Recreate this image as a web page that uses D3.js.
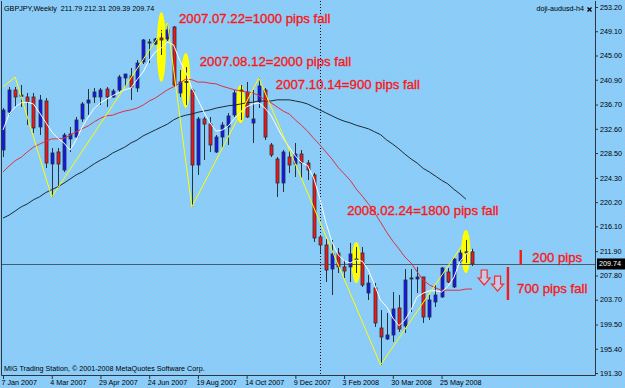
<!DOCTYPE html>
<meta charset="utf-8">
<script src="https://d3js.org/d3.v7.min.js"></script>
<style>
body { margin: 0; background: #87cefa; }
svg { display: block; font-family: "Liberation Sans", Arial, sans-serif; }
.axis path.domain { display: none; }
.axis line { stroke: #2b3640; }
.axis text { font-size: 7.2px; fill: #000; }
.note { font-size: 13.2px; fill: #f81818; stroke: #f81818; stroke-width: 0.35px; }
.small { font-size: 7.2px; fill: #000; }
</style>
<body>
<script>
// GBPJPY weekly bars, 7 Jan 2007 .. 29 Jun 2008
var opens = [229.02,235.44,239.16,238.1,237.98,237.98,232.91,237.30,226.65,228.68,
  225.63,230.88,231.21,234.26,236.96,237.98,237.98,239.33,237.98,239.16,
  241.19,241.53,239.50,243.90,247.28,246.94,247.96,247.79,249.82,238.66,
  240.6,239.16,226.48,234.26,233.41,228.68,231.21,232.91,234.94,238.99,
  238.83,233.58,237.13,239.16,229.86,227.49,223.44,227.83,226.65,228.34,
  226.82,224.79,214.30,212.95,208.89,211.60,209.23,209.23,210.58,211.60,
  204.83,205.68,198.91,197.05,197.73,202.30,199.25,207.20,207.20,207.54,
  200.77,203.31,204.16,208.38,205.85,210.24,211.60,211.79];
var highs = [236.12,239.67,239.67,240.01,238.66,238.66,238.32,237.81,229.35,229.35,
  231.89,232.91,234.60,237.13,239.33,239.50,239.50,239.67,239.33,241.70,
  241.87,242.88,244.24,247.79,247.79,247.96,249.31,250.49,249.99,242.55,
  243.05,239.50,234.60,234.60,234.60,231.55,233.75,235.27,239.16,240.01,
  240.52,239.16,241.19,239.50,230.20,227.83,229.02,229.02,230.20,229.02,
  227.33,225.13,214.64,213.96,213.80,212.44,210.41,213.29,212.61,212.61,
  207.88,206.52,201.96,201.45,205.00,204.49,208.89,208.89,209.23,207.54,
  204.49,206.18,209.23,209.06,210.75,212.10,213.80,212.31];
var lows = [227.83,234.94,236.29,236.29,233.24,231.89,231.55,225.97,221.07,222.59,
  225.30,228.68,231.05,233.75,234.94,236.96,236.63,236.29,237.81,238.83,
  239.67,237.47,238.83,243.56,243.73,246.77,245.08,247.45,239.67,237.98,
  236.63,219.38,224.79,227.33,228.68,228.51,229.35,229.86,234.60,234.09,
  234.43,230.20,236.12,230.71,227.83,221.07,221.91,225.13,224.45,224.28,
  223.94,213.46,211.60,206.69,204.49,208.21,207.37,206.69,208.21,205.85,
  203.65,199.08,192.66,196.88,196.55,198.24,198.07,201.62,204.83,199.76,
  200.27,202.46,203.99,206.52,205.68,209.91,209.91,209.39];
var closes = [235.78,239.16,237.98,238.3,237.13,232.74,237.47,226.82,228.51,226.65,
  231.55,231.72,234.09,236.80,237.47,238.83,239.16,237.98,238.99,241.36,
  241.87,239.67,243.73,247.62,247.11,247.79,247.62,249.31,240.01,240.52,
  240.5,226.48,234.26,233.41,229.86,231.21,233.24,234.77,238.66,239.16,
  234.60,234.26,239.84,231.21,228.17,223.44,228.68,226.48,228.34,226.82,
  225.63,214.13,212.95,208.72,211.43,209.23,208.55,211.43,210.45,206.18,
  206.52,199.76,197.39,197.73,202.13,198.74,207.03,207.37,207.54,200.77,
  203.65,204.49,209.06,206.69,210.58,211.60,211.79,209.74];

// moving averages
var maFast = [232.4,235.1,236.3,237.0,237.1,236.8,235.3,233.7,232.1,231.0,
  230.2,229.0,230.7,232.9,234.6,236.1,237.0,237.6,238.2,238.7,
  239.2,239.5,240.9,242.2,244.2,245.6,246.3,247.3,246.8,244.2,
  242.2,239.5,237.5,235.4,233.6,232.2,232.4,233.1,234.3,235.4,
  236.3,236.8,237.0,236.1,234.9,232.9,231.0,229.5,228.0,226.9,
  226.4,224.3,220.9,216.8,213.5,211.3,210.3,209.9,210.4,210.2,
  208.7,206.2,203.6,202.5,200.6,199.3,200.3,202.0,204.2,204.8,
  205.2,205.2,205.0,205.9,207.4,210.1,211.4,212.1];
var maMid = [225.3,226.3,227.2,227.8,228.7,229.5,230.0,230.5,230.9,230.9,
  231.0,231.5,232.1,232.6,233.1,233.8,234.4,234.8,234.9,235.3,
  235.6,235.8,236.1,236.6,237.3,237.8,238.5,239.2,239.7,240.3,
  241.0,240.9,240.5,240.5,240.3,240.2,239.8,239.5,239.2,239.0,
  238.8,238.7,238.2,237.5,237.0,236.3,235.6,235.1,234.1,233.2,
  232.2,231.0,229.9,228.7,227.5,226.1,225.0,223.9,222.4,221.2,
  219.9,218.4,216.8,215.1,213.6,212.3,210.9,209.9,208.4,207.0,
  206.2,205.7,205.3,205.3,205.3,205.3,205.5,205.5];
var maSlow = [217.5,218.0,218.7,219.4,219.9,220.6,221.1,221.8,222.3,222.8,
  223.4,224.1,224.8,225.3,226.0,226.7,227.3,227.8,228.5,229.0,
  229.5,230.2,230.7,231.4,231.9,232.4,232.9,233.4,234.1,234.6,
  234.9,235.1,235.4,235.6,235.8,236.1,236.3,236.5,236.6,236.8,
  237.0,237.1,237.3,237.3,237.3,237.5,237.5,237.5,237.3,237.1,
  236.8,236.3,235.8,235.3,234.8,234.3,233.9,233.6,233.2,232.9,
  232.6,232.1,231.6,230.7,230.0,229.2,228.3,227.5,226.8,225.9,
  225.3,224.6,223.9,223.3,222.4,221.6,220.7,null];

// zigzag turning points
var zigIdx = [0, 2, 8, 27, 31, 42, 62, 76];
var zigPrice = [239.67, 241.36, 221.07, 250.49, 219.38, 241.19, 192.66, 213.80];

// doji markers (yellow ellipses)
var dojiIdx = [26, 30, 39, 58, 76];
var dojiHi = [252.36, 245.42, 240.01, 213.46, 215.49];
var dojiLo = [240.52, 236.12, 233.58, 206.52, 208.21];

// axes
var tickIdx = [0, 8, 16, 24, 32, 40, 48, 56, 64, 72];
var tickLabels = ["7 Jan 2007", "4 Mar 2007", "29 Apr 2007", "24 Jun 2007", "19 Aug 2007",
  "14 Oct 2007", "9 Dec 2007", "3 Feb 2008", "30 Mar 2008", "25 May 2008"];
var priceTicks = [253.20, 249.10, 245.00, 240.90, 236.70, 232.60, 228.50, 224.30,
  220.20, 216.10, 211.90, 207.80, 203.70, 199.50, 195.40, 191.30];
var yearBreakIdx = 52;

// annotations
var notes = ["2007.07.22=1000 pips fall", "2007.08.12=2000 pips fall", "2007.10.14=900 pips fall",
  "2008.02.24=1800 pips fall", "200 pips", "700 pips fall"];
var noteIdx = [28.9, 32.3, 44.8, 56.5, 86.9, 84.4];
var notePrice = [250.5, 243.2, 239.33, 218.0, 210.07, 204.83];
var markIdx = [85.0, 82.9];
var markTop = [212.1, 209.23];
var markBot = [209.57, 203.65];
var arrowIdx = [79.0, 81.2];
var arrowPrice = [208.72, 207.7];

var W = 625, H = 388;
var pLeft = 1, pRight = 595, pTop = 1, pBottom = 375;

var x = d3.scaleLinear().domain([0, 77]).range([3, 472]);
var y = d3.scaleLinear().domain([191.3, 253.2]).range([373, 7]);

var svg = d3.select("body").append("svg")
    .attr("width", W)
    .attr("height", H);

var defs = svg.append("defs");
var pat = defs.append("pattern")
    .attr("id", "dots")
    .attr("width", 6).attr("height", 4)
    .attr("patternUnits", "userSpaceOnUse");
pat.append("rect").attr("x", 0).attr("y", 0).attr("width", 1).attr("height", 1)
    .attr("fill", "#d6a6cc").attr("opacity", 0.6);
pat.append("rect").attr("x", 3).attr("y", 2).attr("width", 1).attr("height", 1)
    .attr("fill", "#d6a6cc").attr("opacity", 0.6);
defs.append("clipPath").attr("id", "plot")
  .append("rect").attr("x", pLeft).attr("y", pTop)
    .attr("width", pRight - pLeft).attr("height", pBottom - pTop);

svg.append("rect").attr("width", W).attr("height", H).attr("fill", "#87cefa");
svg.append("rect").attr("width", W).attr("height", H).attr("fill", "url(#dots)");

var plot = svg.append("g").attr("clip-path", "url(#plot)");

// doji ellipses
plot.selectAll(".doji")
  .data(dojiIdx)
  .enter().append("ellipse")
    .attr("cx", function(d) { return x(d); })
    .attr("cy", function(d, i) { return (y(dojiHi[i]) + y(dojiLo[i])) / 2; })
    .attr("rx", 4.6)
    .attr("ry", function(d, i) { return (y(dojiLo[i]) - y(dojiHi[i])) / 2; })
    .attr("fill", "#ffff00");

// year separator + current price line
var xb = Math.round(x(yearBreakIdx)) + 0.5;
plot.append("line")
    .attr("x1", xb).attr("x2", xb).attr("y1", pTop).attr("y2", pBottom)
    .attr("stroke", "#111").attr("stroke-dasharray", "1,2");
var yc = Math.round(y(closes[closes.length - 1])) + 0.5;
plot.append("line")
    .attr("x1", pLeft).attr("x2", pRight).attr("y1", yc).attr("y2", yc)
    .attr("stroke", "#4a5c6a");

// candles
var bars = plot.selectAll(".bar")
  .data(d3.range(opens.length))
  .enter().append("g");

bars.append("line")
    .attr("x1", function(i) { return Math.round(x(i)) + 0.5; })
    .attr("x2", function(i) { return Math.round(x(i)) + 0.5; })
    .attr("y1", function(i) { return y(highs[i]); })
    .attr("y2", function(i) { return y(lows[i]); })
    .attr("stroke", "#25323c");

bars.append("rect")
    .attr("x", function(i) { return Math.round(x(i)) - 1; })
    .attr("width", 3)
    .attr("y", function(i) { return y(Math.max(opens[i], closes[i])); })
    .attr("height", function(i) { return Math.max(1, Math.abs(y(opens[i]) - y(closes[i]))); })
    .attr("fill", function(i) {
      if (Math.abs(y(opens[i]) - y(closes[i])) < 1.5) return "#25323c";
      return closes[i] > opens[i] ? "#1414f4" : "#f81414";
    })
    .attr("stroke", "#25323c")
    .attr("stroke-width", 0.8);

// moving averages
var ma = d3.line()
    .defined(function(d) { return d != null; })
    .x(function(d, i) { return x(i); })
    .y(function(d) { return y(d); });

plot.append("path").datum(maSlow).attr("d", ma)
    .attr("fill", "none").attr("stroke", "#1e2a30").attr("stroke-width", 1);
plot.append("path").datum(maMid).attr("d", ma)
    .attr("fill", "none").attr("stroke", "#e03040").attr("stroke-width", 1);
plot.append("path").datum(maFast).attr("d", ma)
    .attr("fill", "none").attr("stroke", "#ffffff").attr("stroke-width", 1);

// zigzag
plot.append("path")
    .datum(d3.range(zigIdx.length))
    .attr("d", d3.line()
      .x(function(k) { return x(zigIdx[k]); })
      .y(function(k) { return y(zigPrice[k]); }))
    .attr("fill", "none").attr("stroke", "#ffff00").attr("stroke-width", 1);

// annotations
plot.selectAll(".note")
  .data(notes)
  .enter().append("text")
    .attr("class", "note")
    .attr("x", function(d, i) { return x(noteIdx[i]); })
    .attr("y", function(d, i) { return y(notePrice[i]); })
    .text(function(d) { return d; });

plot.selectAll(".mark")
  .data(markIdx)
  .enter().append("line")
    .attr("x1", function(d) { return x(d); })
    .attr("x2", function(d) { return x(d); })
    .attr("y1", function(d, i) { return y(markTop[i]); })
    .attr("y2", function(d, i) { return y(markBot[i]); })
    .attr("stroke", "#f81818").attr("stroke-width", 2.4);

plot.selectAll(".arrow")
  .data(arrowIdx)
  .enter().append("path")
    .attr("transform", function(d, i) {
      return "translate(" + x(d) + "," + y(arrowPrice[i]) + ")";
    })
    .attr("d", "M-3,0H3V8H6L0,15L-6,8H-3Z")
    .attr("fill", "#f6c8d8").attr("fill-opacity", 0.6)
    .attr("stroke", "#f03030").attr("stroke-width", 1.2);

// axes
var xAxis = svg.append("g")
    .attr("class", "axis")
    .attr("transform", "translate(0," + pBottom + ")")
    .call(d3.axisBottom(x)
      .tickValues(tickIdx)
      .tickFormat(function(d, i) { return tickLabels[i]; })
      .tickSize(4)
      .tickPadding(1));
xAxis.selectAll("text").attr("text-anchor", "start").attr("dx", -2);

var yAxis = svg.append("g")
    .attr("class", "axis")
    .attr("transform", "translate(" + pRight + ",0)")
    .call(d3.axisRight(y)
      .tickValues(priceTicks)
      .tickFormat(d3.format(".2f"))
      .tickSize(3)
      .tickPadding(2));

// frame
svg.append("path")
    .attr("d", "M" + (pLeft + 0.5) + "," + pTop + "V" + (pBottom + 0.5) + "H" + (pRight + 0.5) + "V" + pTop)
    .attr("fill", "none").attr("stroke", "#2b3640");

// last price tag
var last = closes[closes.length - 1];
svg.append("rect")
    .attr("x", pRight + 2).attr("y", y(last) - 5.5)
    .attr("width", W - pRight - 2).attr("height", 11)
    .attr("fill", "#000");
svg.append("text")
    .attr("class", "small")
    .attr("x", pRight + 4).attr("y", y(last))
    .attr("dy", "0.35em")
    .style("fill", "#fff")
    .text(d3.format(".2f")(last));

// header / footer text
var n = opens.length - 1;
svg.append("text")
    .attr("class", "small")
    .attr("x", 4).attr("y", 11)
    .style("white-space", "pre")
    .text("GBPJPY,Weekly  " + [opens[n], highs[n], lows[n], closes[n]].map(d3.format(".2f")).join(" "));
svg.append("text")
    .attr("class", "small")
    .attr("x", 584).attr("y", 11)
    .attr("text-anchor", "end")
    .text("doji-audusd-h4");
svg.append("path")
    .attr("d", "M587.5,7.5l4,4M591.5,7.5l-4,4")
    .attr("stroke", "#000").attr("stroke-width", 1.3);
svg.append("text")
    .attr("class", "small")
    .attr("x", 4).attr("y", 371)
    .text("MIG Trading Station, \u00a9 2001-2008 MetaQuotes Software Corp.");
</script>
</body>
</html>
